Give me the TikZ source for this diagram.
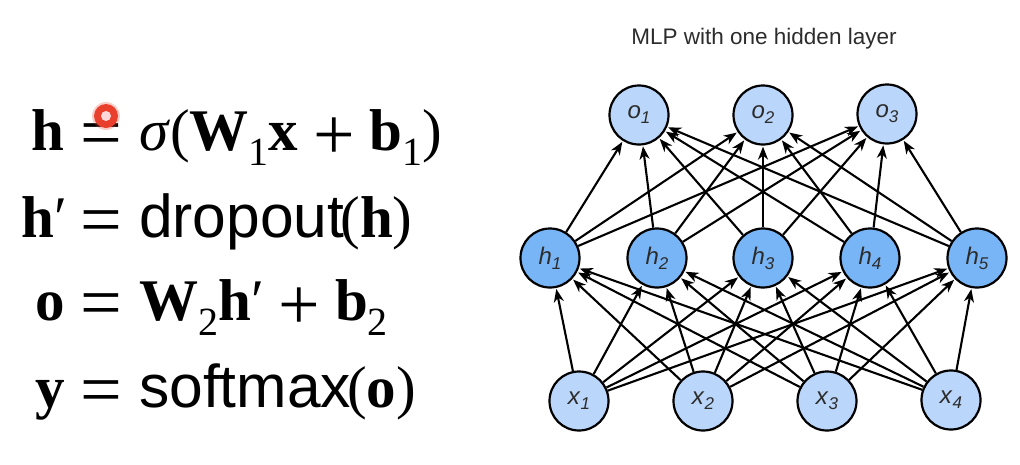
\documentclass[tikz,border=0pt]{standalone}
\usepackage{fontspec}
\setmainfont{Liberation Serif}
\setsansfont{Liberation Sans}
\usetikzlibrary{arrows.meta}
\definecolor{inputblue}{HTML}{BAD6FA}
\definecolor{hiddenblue}{HTML}{78B5F6}
\definecolor{labelgray}{HTML}{2C2C2C}
\definecolor{dotred}{HTML}{E8402C}
\newcommand{\lowsub}[1]{\raisebox{-15pt}{\fontsize{40}{40}\selectfont #1}}
\newcommand{\nodesub}[2]{\textit{#1}\raisebox{-5pt}{\fontsize{17}{17}\selectfont\textit{#2}}}
\newcommand{\wideplus}{\raisebox{-9pt}{\scalebox{1.25}{+}}}
\newcommand{\wordfont}{\sffamily\fontsize{60.5}{60.5}\selectfont}
\tikzset{
  neuron/.style={draw=black, circle, line width=2.2pt, minimum size=59pt, inner sep=0pt,
    text=labelgray, font=\sffamily\fontsize{24}{24}\selectfont},
  conn/.style={-{Stealth[length=13pt, width=10pt, inset=4pt]}, line width=2.1pt, shorten >=1pt},
  eqn/.style={inner sep=0pt, font=\fontsize{59}{59}\selectfont},
}
\begin{document}
\begin{tikzpicture}[x=1pt, y=-1pt]
  \useasboundingbox (0, 0) rectangle (1020, 464);

  \node[inner sep=0pt, text=labelgray, font=\sffamily\fontsize{22.5}{22.5}\selectfont] (title) at (764, 39) {MLP with one hidden layer};

  % equations
  \node[eqn, anchor=base west] (eqa) at (31, 150) {\textbf{h}};
  \node[eqn, anchor=base west] (eqb) at (21, 237) {\textbf{h}′};
  \node[eqn, anchor=base west] (eqc) at (35, 320) {\textbf{o}};
  \node[eqn, anchor=base west] (eqd) at (35, 407) {\textbf{y}};
  \foreach \name/\ypos in {a/150, b/237, c/320, d/407}
    \node[eqn, anchor=base, font=\fontsize{74}{74}\selectfont] (is\name) at (101, \ypos+7) {=};
  \node[eqn, anchor=base west] (rhsa) at (139, 150) {\textit{σ}(\textbf{W}\lowsub{1}\textbf{x} \wideplus{} \textbf{b}\lowsub{1})};
  \node[eqn, anchor=base west] (rhsb) at (139, 237) {{\wordfont dropout}\kern-4pt(\textbf{h})};
  \node[eqn, anchor=base west] (rhsc) at (139, 320) {\textbf{W}\lowsub{2}\textbf{h}′ \wideplus{} \textbf{b}\lowsub{2}};
  \node[eqn, anchor=base west] (rhsd) at (139, 407) {{\wordfont softmax}\kern-4pt(\textbf{o})};

  % pointer dot
  \fill[dotred, opacity=.25] (106, 116) circle (14);
  \fill[dotred] (106, 116) circle (12);
  \fill[red!15!white] (106, 116) circle (5);

  % layers
  \foreach \i/\xpos/\ypos in {1/639/115, 2/763/115, 3/887/114}
    \node[neuron, fill=inputblue] (o\i) at (\xpos, \ypos) {\nodesub{o}{\i}};
  \foreach \i/\xpos in {1/550, 2/657, 3/763, 4/870, 5/977}
    \node[neuron, fill=hiddenblue] (h\i) at (\xpos, 258) {\nodesub{h}{\i}};
  \foreach \i/\xpos/\ypos in {1/579/401, 2/703/401, 3/827/401, 4/951/400}
    \node[neuron, fill=inputblue] (x\i) at (\xpos, \ypos) {\nodesub{x}{\i}};

  % connections
  \foreach \i in {1,...,5} {
    \foreach \j in {1,...,3}
      \draw[conn] (h\i) -- (o\j);
    \foreach \j in {1,...,4}
      \draw[conn] (x\j) -- (h\i);
  }
\end{tikzpicture}
\end{document}
